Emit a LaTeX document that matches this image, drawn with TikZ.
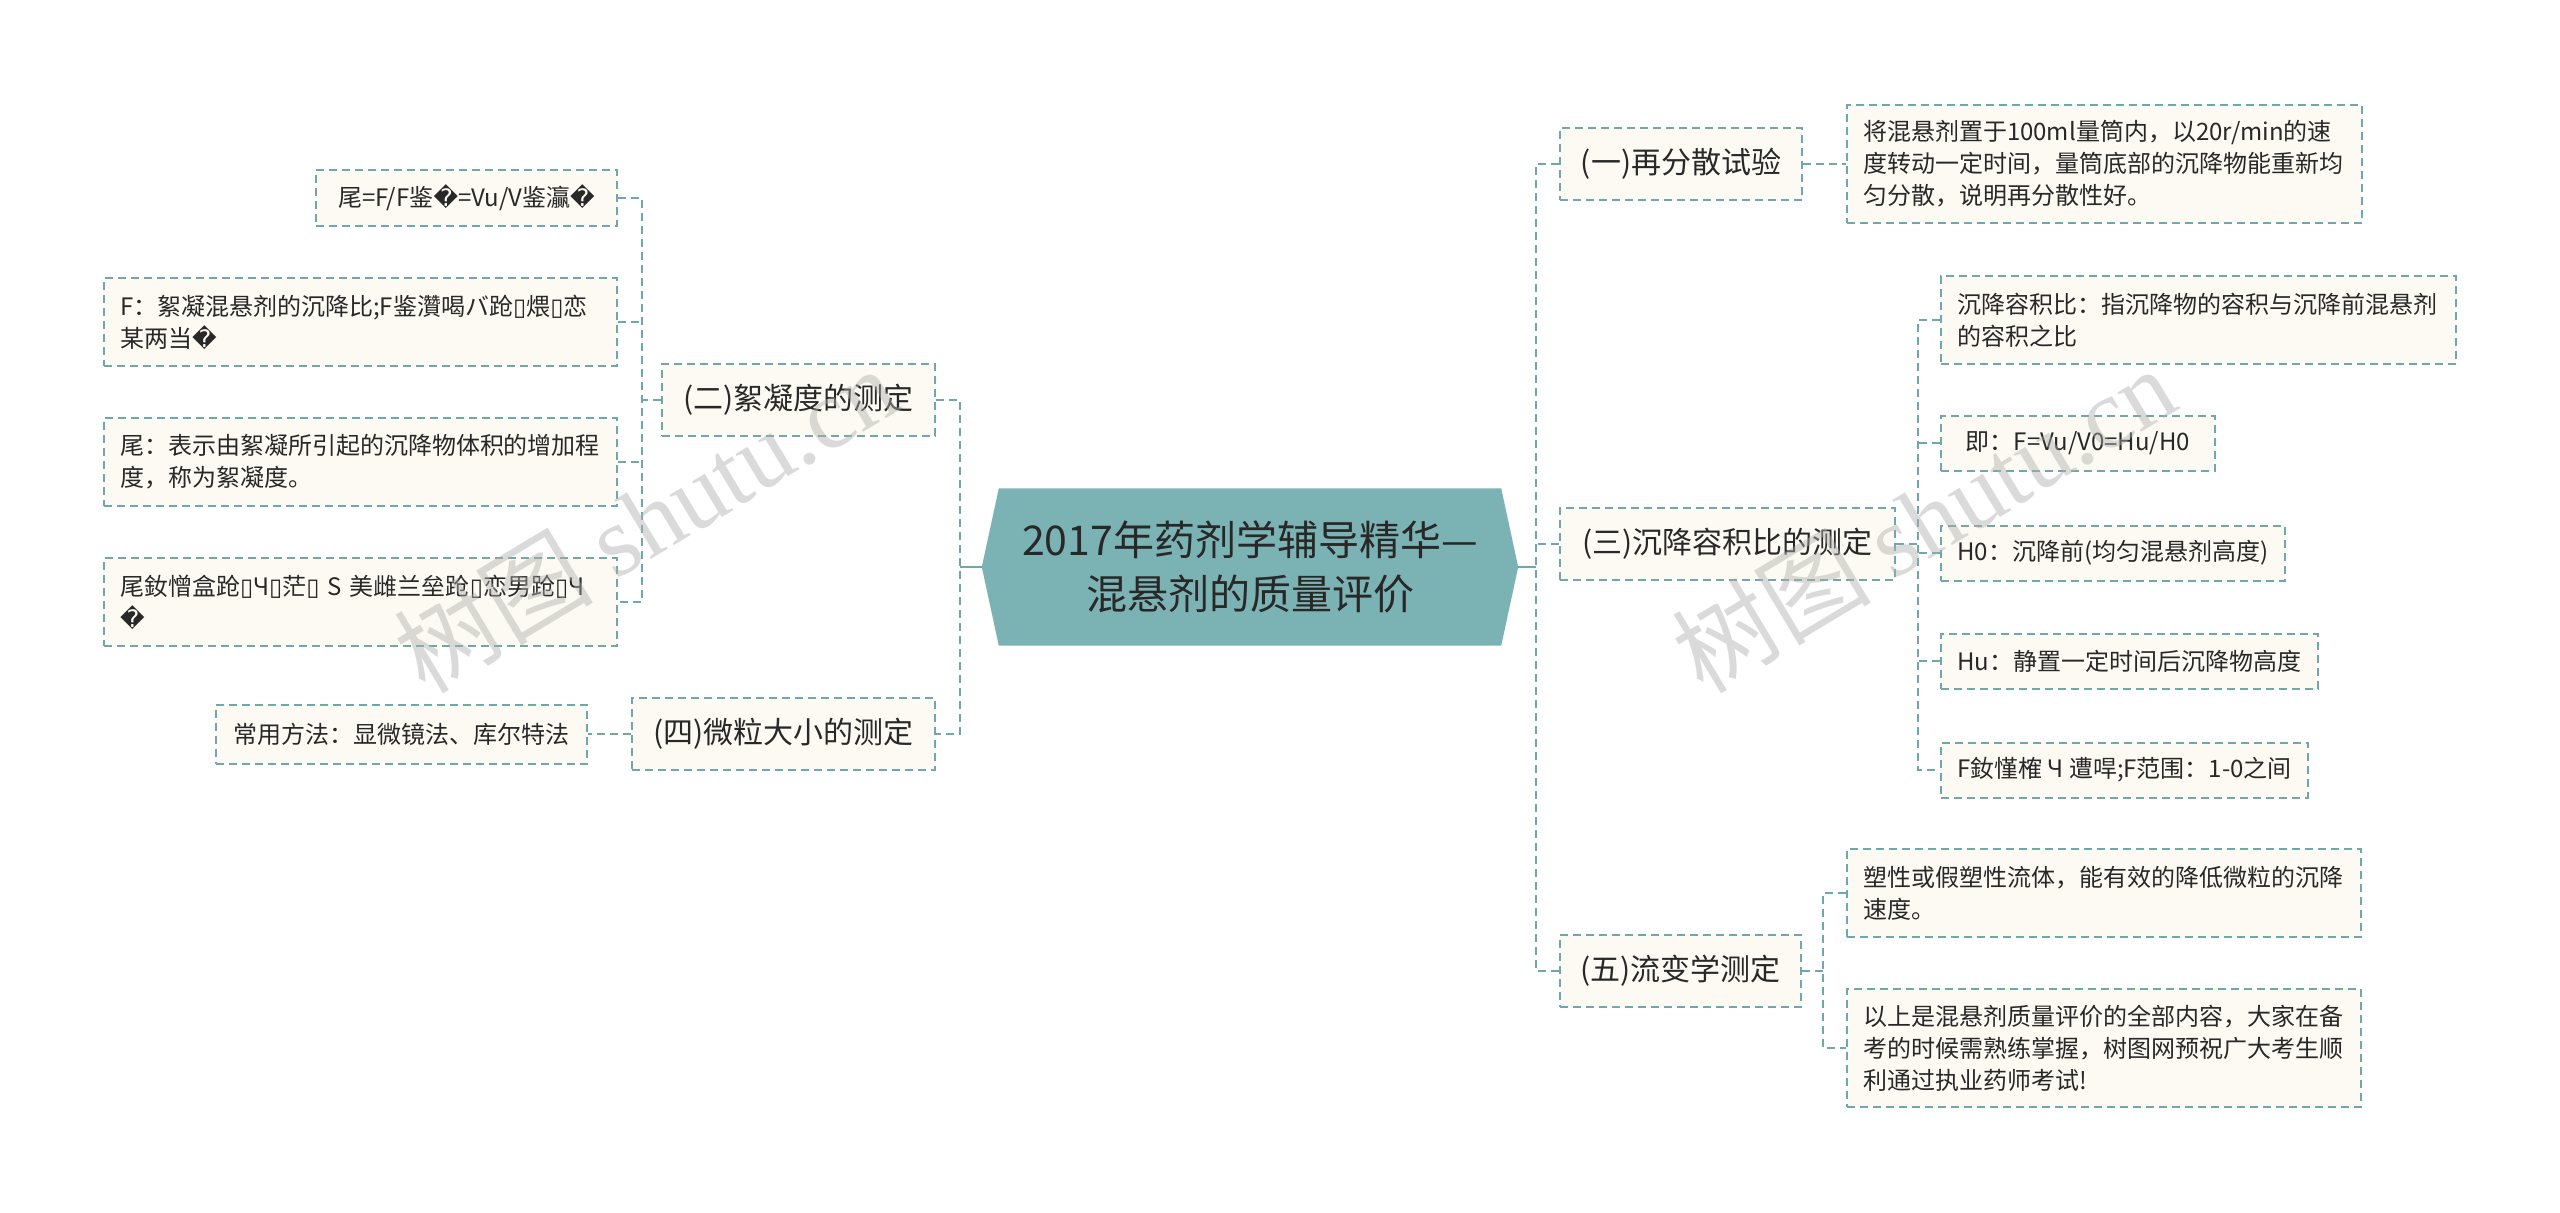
\documentclass[tikz,border=0pt]{standalone}
\usepackage{fontspec}
\setmainfont{Noto Sans CJK SC}
\newfontfamily\dvs{DejaVu Sans}
\newfontfamily\wmserif{Liberation Serif}
\usetikzlibrary{calc}
\definecolor{lineteal}{RGB}{110,168,168}
\definecolor{cream}{RGB}{252,250,242}
\definecolor{hexfill}{RGB}{123,179,181}
\definecolor{txt}{RGB}{40,40,40}
\definecolor{wmgray}{RGB}{175,175,175}
\newcommand{\rc}{{\dvs\char"FFFD}}
\newcommand{\mb}{{\dvs\char"25AF}}
\begin{document}
\begin{tikzpicture}[x=1pt,y=-1pt,
 conn/.style={draw=lineteal,line width=2pt,dash pattern=on 8pt off 5pt},
 solidconn/.style={draw=lineteal,line width=2.5pt},
 box/.style={draw=lineteal,line width=2pt,dash pattern=on 8pt off 5pt,fill=cream,text=txt,inner xsep=16pt,inner ysep=4pt},
 leaf/.style={box,font=\fontsize{24}{32}\selectfont,align=left},
 branch/.style={box,font=\fontsize{30}{38}\selectfont,align=center,minimum height=72pt},
]
\fill[white] (0,0) rectangle (2560,1213);
\useasboundingbox (0,0) rectangle (2560,1213);

% root
\node[minimum width=536pt, minimum height=157pt, inner sep=0pt] (root) at (1250,567) {};
\fill[hexfill] (root.west) -- ($(root.north west)+(17,0)$) -- ($(root.north east)+(-17,0)$) -- (root.east) -- ($(root.south east)+(-17,0)$) -- ($(root.south west)+(17,0)$) -- cycle;
\node[font=\fontsize{41}{54}\selectfont,text=txt,align=center] (roottext) at (root) {2017年药剂学辅导精华—\\混悬剂的质量评价};

% branches
\node[branch,minimum width=273pt,anchor=east] (b2) at (936,400) {(二)絮凝度的测定};
\node[branch,minimum width=303pt,anchor=east] (b4) at (936,734) {(四)微粒大小的测定};
\node[branch,minimum width=242pt,anchor=west] (b1) at (1559,164) {(一)再分散试验};
\node[branch,minimum width=335pt,anchor=west] (b3) at (1559,544) {(三)沉降容积比的测定};
\node[branch,minimum width=241pt,anchor=west] (b5) at (1559,971) {(五)流变学测定};

% left leaves
\node[leaf,anchor=east,minimum width=301pt,minimum height=56pt] (l21) at (618,198) {尾=F/F鉴\rc=Vu/V鉴灜\rc};
\node[leaf,anchor=east,text width=481pt,minimum height=88pt] (l22) at (618,322) {F：絮凝混悬剂的沉降比;F鉴灒喝バ跄\mb 煨\mb 恋\\某两当\rc};
\node[leaf,anchor=east,text width=481pt,minimum height=88pt] (l23) at (618,462) {尾：表示由絮凝所引起的沉降物体积的增加程\\度，称为絮凝度。};
\node[leaf,anchor=east,text width=481pt,minimum height=88pt] (l24) at (618,602) {尾釹憎盒跄\mb Ч\mb 茫\mb\ S 美雌兰垒跄\mb 恋男跄\mb Ч\\\rc};
\node[leaf,anchor=east,minimum width=371pt,minimum height=59pt] (l41) at (588,734) {常用方法：显微镜法、库尔特法};

% right leaves
\node[leaf,anchor=west,text width=483pt,minimum height=118pt] (l11) at (1846,164) {将混悬剂置于100ml量筒内，以20r/min的速\\度转动一定时间，量筒底部的沉降物能重新均\\匀分散，说明再分散性好。};
\node[leaf,anchor=west,text width=483pt,minimum height=88pt] (l31) at (1940,320) {沉降容积比：指沉降物的容积与沉降前混悬剂\\的容积之比};
\node[leaf,anchor=west,minimum width=274pt,minimum height=55pt] (l32) at (1940,443) {即：F=Vu/V0=Hu/H0};
\node[leaf,anchor=west,minimum width=344pt,minimum height=55pt] (l33) at (1940,553) {H0：沉降前(均匀混悬剂高度)};
\node[leaf,anchor=west,minimum width=377pt,minimum height=55pt] (l34) at (1940,661) {Hu：静置一定时间后沉降物高度};
\node[leaf,anchor=west,minimum width=366pt,minimum height=55pt] (l35) at (1940,770) {F釹慬榷 Ч 遭哻;F范围：1-0之间};
\node[leaf,anchor=west,text width=482pt,minimum height=88pt] (l51) at (1846,893) {塑性或假塑性流体，能有效的降低微粒的沉降\\速度。};
\node[leaf,anchor=west,text width=482pt,minimum height=118pt] (l52) at (1846,1048) {以上是混悬剂质量评价的全部内容，大家在备\\考的时候需熟练掌握，树图网预祝广大考生顺\\利通过执业药师考试!};

% trunk coordinates
\coordinate (lroot) at (960,567);
\coordinate (lt1) at (960,400);
\coordinate (lt2) at (960,734);
\coordinate (rroot) at (1536,567);
\coordinate (rt1) at (1536,164);
\coordinate (rt3) at (1536,544);
\coordinate (rt5) at (1536,971);
\coordinate (t2a) at (642,198);
\coordinate (t2b) at (642,322);
\coordinate (t2) at (642,400);
\coordinate (t2c) at (642,462);
\coordinate (t2d) at (642,602);
\coordinate (t3a) at (1918,320);
\coordinate (t3b) at (1918,443);
\coordinate (t3) at (1918,544);
\coordinate (t3c) at (1918,553);
\coordinate (t3d) at (1918,661);
\coordinate (t3e) at (1918,770);
\coordinate (t5a) at (1823,893);
\coordinate (t5) at (1823,971);
\coordinate (t5b) at (1823,1048);

% connectors
\draw[solidconn] (root.west) -- (lroot);
\draw[solidconn] (root.east) -- (rroot);
\draw[conn] (b2.east) -- (lt1) -- (lt2) -- (b4.east);
\draw[conn] (b1.west) -- (rt1) -- (rt5) -- (b5.west);
\draw[conn] (b3.west) -- (rt3);
\draw[conn] (l21.east) -- (t2a) -- (t2d) -- (l24.east);
\draw[conn] (l22.east) -- (t2b);
\draw[conn] (l23.east) -- (t2c);
\draw[conn] (b2.west) -- (t2);
\draw[conn] (b4.west) -- (l41.east);
\draw[conn] (b1.east) -- (l11.west);
\draw[conn] (l31.west) -- (t3a) -- (t3e) -- (l35.west);
\draw[conn] (l32.west) -- (t3b);
\draw[conn] (l33.west) -- (t3c);
\draw[conn] (l34.west) -- (t3d);
\draw[conn] (b3.east) -- (t3);
\draw[conn] (l51.west) -- (t5a) -- (t5b) -- (l52.west);
\draw[conn] (b5.east) -- (t5);

% watermark
\node[rotate=31,text=wmgray,opacity=0.45,font=\fontsize{100}{100}\selectfont] (wm1) at (645,519) {树图 {\wmserif shutu.cn}};
\node[rotate=31,text=wmgray,opacity=0.45,font=\fontsize{100}{100}\selectfont] (wm2) at (1923,519) {树图 {\wmserif shutu.cn}};
\end{tikzpicture}
\end{document}
